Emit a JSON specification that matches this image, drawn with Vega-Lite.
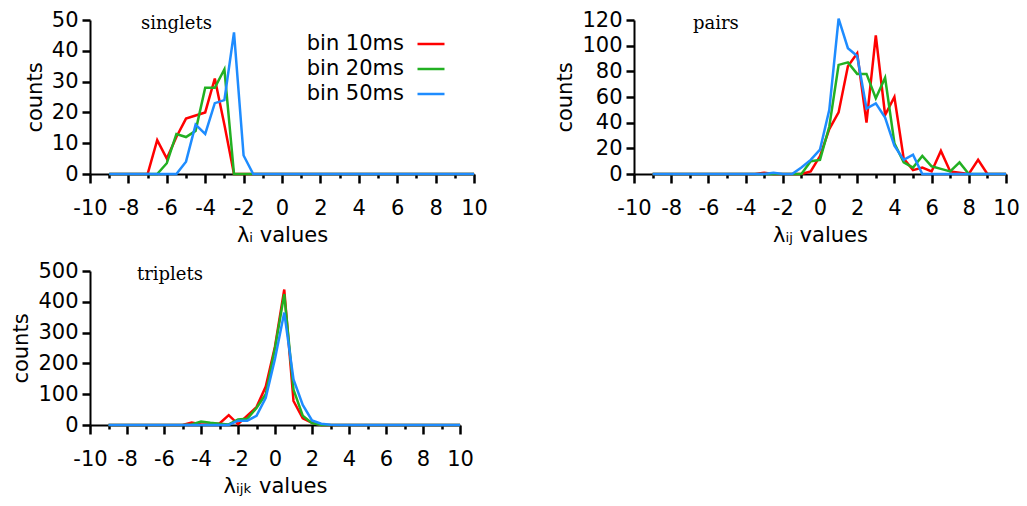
{
  "$schema": "https://vega.github.io/schema/vega-lite/v6.json",
  "background": "white",
  "padding": {"left": 10, "top": 9, "right": 5, "bottom": 5},
  "config": {
    "view": {"stroke": null},
    "font": "DejaVu Sans",
    "axis": {"domainColor": "black", "domainWidth": 2, "labelFont": "DejaVu Sans", "labelFontSize": 21, "labelColor": "black", "titleFont": "DejaVu Sans", "titleFontSize": 21, "titleFontWeight": "normal", "titleColor": "black", "grid": false, "labelOverlap": false, "labelFlush": false},
    "title": {"font": "DejaVu Serif", "fontSize": 18, "fontWeight": "normal", "color": "black", "anchor": "start", "frame": "group", "baseline": "top"},
    "legend": {"orient": "none", "legendX": 326, "legendY": 9, "title": null, "symbolType": "stroke", "symbolSize": 729, "symbolStrokeWidth": 2.5, "labelFontSize": 21, "labelFont": "DejaVu Sans", "labelColor": "black", "labelAlign": "right", "labelOffset": -42, "rowPadding": 0}
  },
  "datasets": {
    "singlets": [
      {"bin": "bin 10ms", "x": -9, "y": 0}, {"bin": "bin 10ms", "x": -7, "y": 0}, {"bin": "bin 10ms", "x": -6.5, "y": 11}, {"bin": "bin 10ms", "x": -6, "y": 5}, {"bin": "bin 10ms", "x": -5.5, "y": 12}, {"bin": "bin 10ms", "x": -5, "y": 18}, {"bin": "bin 10ms", "x": -4.5, "y": 19}, {"bin": "bin 10ms", "x": -4, "y": 20}, {"bin": "bin 10ms", "x": -3.5, "y": 31}, {"bin": "bin 10ms", "x": -3, "y": 16}, {"bin": "bin 10ms", "x": -2.5, "y": 0}, {"bin": "bin 10ms", "x": 10, "y": 0},
      {"bin": "bin 20ms", "x": -9, "y": 0}, {"bin": "bin 20ms", "x": -6.5, "y": 0}, {"bin": "bin 20ms", "x": -6, "y": 3.5}, {"bin": "bin 20ms", "x": -5.5, "y": 13}, {"bin": "bin 20ms", "x": -5, "y": 12}, {"bin": "bin 20ms", "x": -4.5, "y": 14}, {"bin": "bin 20ms", "x": -4, "y": 28}, {"bin": "bin 20ms", "x": -3.5, "y": 28}, {"bin": "bin 20ms", "x": -3, "y": 34}, {"bin": "bin 20ms", "x": -2.5, "y": 0}, {"bin": "bin 20ms", "x": 10, "y": 0},
      {"bin": "bin 50ms", "x": -9, "y": 0}, {"bin": "bin 50ms", "x": -5.5, "y": 0}, {"bin": "bin 50ms", "x": -5, "y": 4}, {"bin": "bin 50ms", "x": -4.5, "y": 16}, {"bin": "bin 50ms", "x": -4, "y": 13}, {"bin": "bin 50ms", "x": -3.5, "y": 23}, {"bin": "bin 50ms", "x": -3, "y": 24}, {"bin": "bin 50ms", "x": -2.5, "y": 46}, {"bin": "bin 50ms", "x": -2, "y": 6}, {"bin": "bin 50ms", "x": -1.5, "y": 0}, {"bin": "bin 50ms", "x": 10, "y": 0}
    ],
    "pairs": [
      {"bin": "bin 10ms", "x": -9, "y": 0}, {"bin": "bin 10ms", "x": -3.5, "y": 0}, {"bin": "bin 10ms", "x": -3, "y": 1}, {"bin": "bin 10ms", "x": -2.5, "y": 0}, {"bin": "bin 10ms", "x": -1, "y": 0}, {"bin": "bin 10ms", "x": -0.5, "y": 2}, {"bin": "bin 10ms", "x": 0, "y": 14}, {"bin": "bin 10ms", "x": 0.5, "y": 35}, {"bin": "bin 10ms", "x": 1, "y": 48}, {"bin": "bin 10ms", "x": 1.5, "y": 84}, {"bin": "bin 10ms", "x": 2, "y": 94}, {"bin": "bin 10ms", "x": 2.5, "y": 40}, {"bin": "bin 10ms", "x": 3, "y": 108}, {"bin": "bin 10ms", "x": 3.5, "y": 46}, {"bin": "bin 10ms", "x": 4, "y": 60}, {"bin": "bin 10ms", "x": 4.5, "y": 12}, {"bin": "bin 10ms", "x": 5, "y": 3}, {"bin": "bin 10ms", "x": 5.5, "y": 5}, {"bin": "bin 10ms", "x": 6, "y": 2}, {"bin": "bin 10ms", "x": 6.5, "y": 18}, {"bin": "bin 10ms", "x": 7, "y": 2}, {"bin": "bin 10ms", "x": 7.5, "y": 1}, {"bin": "bin 10ms", "x": 8, "y": 0}, {"bin": "bin 10ms", "x": 8.5, "y": 11}, {"bin": "bin 10ms", "x": 9, "y": 0}, {"bin": "bin 10ms", "x": 10, "y": 0},
      {"bin": "bin 20ms", "x": -9, "y": 0}, {"bin": "bin 20ms", "x": -1, "y": 0}, {"bin": "bin 20ms", "x": -0.5, "y": 10}, {"bin": "bin 20ms", "x": 0, "y": 11}, {"bin": "bin 20ms", "x": 0.5, "y": 37}, {"bin": "bin 20ms", "x": 1, "y": 85}, {"bin": "bin 20ms", "x": 1.5, "y": 87}, {"bin": "bin 20ms", "x": 2, "y": 78}, {"bin": "bin 20ms", "x": 2.5, "y": 78}, {"bin": "bin 20ms", "x": 3, "y": 59}, {"bin": "bin 20ms", "x": 3.5, "y": 75}, {"bin": "bin 20ms", "x": 4, "y": 24}, {"bin": "bin 20ms", "x": 4.5, "y": 9}, {"bin": "bin 20ms", "x": 5, "y": 5}, {"bin": "bin 20ms", "x": 5.5, "y": 14}, {"bin": "bin 20ms", "x": 6, "y": 6}, {"bin": "bin 20ms", "x": 6.5, "y": 4}, {"bin": "bin 20ms", "x": 7, "y": 2}, {"bin": "bin 20ms", "x": 7.5, "y": 9}, {"bin": "bin 20ms", "x": 8, "y": 0}, {"bin": "bin 20ms", "x": 10, "y": 0},
      {"bin": "bin 50ms", "x": -9, "y": 0}, {"bin": "bin 50ms", "x": -3, "y": 0}, {"bin": "bin 50ms", "x": -2.5, "y": 1}, {"bin": "bin 50ms", "x": -2, "y": 0}, {"bin": "bin 50ms", "x": -1.5, "y": 0}, {"bin": "bin 50ms", "x": -1, "y": 5}, {"bin": "bin 50ms", "x": -0.5, "y": 11}, {"bin": "bin 50ms", "x": 0, "y": 19}, {"bin": "bin 50ms", "x": 0.5, "y": 50}, {"bin": "bin 50ms", "x": 1, "y": 121}, {"bin": "bin 50ms", "x": 1.5, "y": 98}, {"bin": "bin 50ms", "x": 2, "y": 92}, {"bin": "bin 50ms", "x": 2.5, "y": 51}, {"bin": "bin 50ms", "x": 3, "y": 55}, {"bin": "bin 50ms", "x": 3.5, "y": 44}, {"bin": "bin 50ms", "x": 4, "y": 22}, {"bin": "bin 50ms", "x": 4.5, "y": 11}, {"bin": "bin 50ms", "x": 5, "y": 15}, {"bin": "bin 50ms", "x": 5.5, "y": 0}, {"bin": "bin 50ms", "x": 10, "y": 0}
    ],
    "triplets": [
      {"bin": "bin 10ms", "x": -9, "y": 0}, {"bin": "bin 10ms", "x": -5, "y": 0}, {"bin": "bin 10ms", "x": -4.5, "y": 8}, {"bin": "bin 10ms", "x": -4, "y": 2}, {"bin": "bin 10ms", "x": -3.5, "y": 2}, {"bin": "bin 10ms", "x": -3, "y": 5}, {"bin": "bin 10ms", "x": -2.5, "y": 32}, {"bin": "bin 10ms", "x": -2, "y": 3}, {"bin": "bin 10ms", "x": -1.5, "y": 30}, {"bin": "bin 10ms", "x": -1, "y": 58}, {"bin": "bin 10ms", "x": -0.5, "y": 125}, {"bin": "bin 10ms", "x": 0, "y": 255}, {"bin": "bin 10ms", "x": 0.5, "y": 440}, {"bin": "bin 10ms", "x": 1, "y": 78}, {"bin": "bin 10ms", "x": 1.5, "y": 22}, {"bin": "bin 10ms", "x": 2, "y": 7}, {"bin": "bin 10ms", "x": 2.5, "y": 0}, {"bin": "bin 10ms", "x": 10, "y": 0},
      {"bin": "bin 20ms", "x": -9, "y": 0}, {"bin": "bin 20ms", "x": -5, "y": 0}, {"bin": "bin 20ms", "x": -4.5, "y": 2}, {"bin": "bin 20ms", "x": -4, "y": 11}, {"bin": "bin 20ms", "x": -3.5, "y": 7}, {"bin": "bin 20ms", "x": -3, "y": 4}, {"bin": "bin 20ms", "x": -2.5, "y": 2}, {"bin": "bin 20ms", "x": -2, "y": 18}, {"bin": "bin 20ms", "x": -1.5, "y": 20}, {"bin": "bin 20ms", "x": -1, "y": 55}, {"bin": "bin 20ms", "x": -0.5, "y": 100}, {"bin": "bin 20ms", "x": 0, "y": 250}, {"bin": "bin 20ms", "x": 0.5, "y": 425}, {"bin": "bin 20ms", "x": 1, "y": 115}, {"bin": "bin 20ms", "x": 1.5, "y": 30}, {"bin": "bin 20ms", "x": 2, "y": 6}, {"bin": "bin 20ms", "x": 2.5, "y": 0}, {"bin": "bin 20ms", "x": 10, "y": 0},
      {"bin": "bin 50ms", "x": -9, "y": 0}, {"bin": "bin 50ms", "x": -2.5, "y": 0}, {"bin": "bin 50ms", "x": -2, "y": 14}, {"bin": "bin 50ms", "x": -1.5, "y": 14}, {"bin": "bin 50ms", "x": -1, "y": 30}, {"bin": "bin 50ms", "x": -0.5, "y": 88}, {"bin": "bin 50ms", "x": 0, "y": 215}, {"bin": "bin 50ms", "x": 0.5, "y": 365}, {"bin": "bin 50ms", "x": 1, "y": 148}, {"bin": "bin 50ms", "x": 1.5, "y": 65}, {"bin": "bin 50ms", "x": 2, "y": 15}, {"bin": "bin 50ms", "x": 2.5, "y": 4}, {"bin": "bin 50ms", "x": 3, "y": 1}, {"bin": "bin 50ms", "x": 3.5, "y": 0}, {"bin": "bin 50ms", "x": 10, "y": 0}
    ]
  },
  "columns": 1,
  "align": "none",
  "spacing": 15,
  "concat": [
    {
      "spacing": 66,
      "hconcat": [
        {
          "width": 384, "height": 154,
          "title": {"text": "singlets", "dx": 51, "offset": -24},
          "data": {"name": "singlets"},
          "layer": [
            {
              "mark": {"type": "line", "strokeWidth": 2.5},
              "encoding": {
                "x": {"field": "x", "type": "quantitative", "scale": {"domain": [-10, 10], "nice": false, "zero": false},
                  "axis": {"orient": "bottom", "values": [-10, -8, -6, -4, -2, 0, 2, 4, 6, 8, 10], "labelExpr": "toString(datum.value)", "ticks": true, "tickColor": "black", "tickWidth": 2.5, "tickSize": 9, "labelPadding": 14, "title": "λᵢ values", "titlePadding": 6}},
                "y": {"field": "y", "type": "quantitative", "scale": {"domain": [0, 50], "nice": false},
                  "axis": {"values": [0, 10, 20, 30, 40, 50], "ticks": true, "tickColor": "black", "tickWidth": 2.5, "tickSize": 8, "labelPadding": 4, "title": "counts", "titlePadding": 6}},
                "color": {"field": "bin", "type": "nominal", "scale": {"domain": ["bin 10ms", "bin 20ms", "bin 50ms"], "range": ["#ff0000", "#22b022", "#1e8cff"]}}
              }
            },
            {
              "mark": {"type": "line", "opacity": 0},
              "encoding": {
                "x": {"field": "x", "type": "quantitative", "scale": {"domain": [-10, 10], "nice": false, "zero": false},
                  "axis": {"orient": "bottom", "values": [-9, -7, -5, -3, -1, 1, 3, 5, 7, 9], "labels": false, "domain": false, "ticks": true, "tickColor": "black", "tickWidth": 2.5, "tickSize": 4, "title": null}},
                "y": {"field": "y", "type": "quantitative", "scale": {"domain": [0, 50], "nice": false},
                  "axis": {"values": [0, 10, 20, 30, 40, 50], "ticks": true, "tickColor": "black", "tickWidth": 2.5, "tickSize": 8, "labelPadding": 4, "title": "counts", "titlePadding": 6}}
              }
            }
          ],
          "resolve": {"axis": {"x": "independent"}}
        },
        {
          "width": 372, "height": 154,
          "title": {"text": "pairs", "dx": 59, "offset": -24},
          "data": {"name": "pairs"},
          "layer": [
            {
              "mark": {"type": "line", "strokeWidth": 2.5},
              "encoding": {
                "x": {"field": "x", "type": "quantitative", "scale": {"domain": [-10, 10], "nice": false, "zero": false},
                  "axis": {"orient": "bottom", "values": [-10, -8, -6, -4, -2, 0, 2, 4, 6, 8, 10], "labelExpr": "toString(datum.value)", "ticks": true, "tickColor": "black", "tickWidth": 2.5, "tickSize": 9, "labelPadding": 14, "title": "λᵢⱼ values", "titlePadding": 6}},
                "y": {"field": "y", "type": "quantitative", "scale": {"domain": [0, 120], "nice": false},
                  "axis": {"values": [0, 20, 40, 60, 80, 100, 120], "ticks": true, "tickColor": "black", "tickWidth": 2.5, "tickSize": 8, "labelPadding": 4, "title": "counts", "titlePadding": 6}},
                "color": {"field": "bin", "type": "nominal", "scale": {"domain": ["bin 10ms", "bin 20ms", "bin 50ms"], "range": ["#ff0000", "#22b022", "#1e8cff"]}}
              }
            },
            {
              "mark": {"type": "line", "opacity": 0},
              "encoding": {
                "x": {"field": "x", "type": "quantitative", "scale": {"domain": [-10, 10], "nice": false, "zero": false},
                  "axis": {"orient": "bottom", "values": [-9, -7, -5, -3, -1, 1, 3, 5, 7, 9], "labels": false, "domain": false, "ticks": true, "tickColor": "black", "tickWidth": 2.5, "tickSize": 4, "title": null}},
                "y": {"field": "y", "type": "quantitative", "scale": {"domain": [0, 120], "nice": false},
                  "axis": {"values": [0, 20, 40, 60, 80, 100, 120], "ticks": true, "tickColor": "black", "tickWidth": 2.5, "tickSize": 8, "labelPadding": 4, "title": "counts", "titlePadding": 6}}
              }
            }
          ],
          "resolve": {"axis": {"x": "independent"}}
        }
      ]
    },
    {
      "width": 370, "height": 154,
      "title": {"text": "triplets", "dx": 47, "offset": -24},
      "data": {"name": "triplets"},
      "layer": [
        {
          "mark": {"type": "line", "strokeWidth": 2.5},
          "encoding": {
            "x": {"field": "x", "type": "quantitative", "scale": {"domain": [-10, 10], "nice": false, "zero": false},
              "axis": {"orient": "bottom", "values": [-10, -8, -6, -4, -2, 0, 2, 4, 6, 8, 10], "labelExpr": "toString(datum.value)", "ticks": true, "tickColor": "black", "tickWidth": 2.5, "tickSize": 9, "labelPadding": 14, "title": "λᵢⱼₖ values", "titlePadding": 6}},
            "y": {"field": "y", "type": "quantitative", "scale": {"domain": [0, 500], "nice": false},
              "axis": {"values": [0, 100, 200, 300, 400, 500], "ticks": true, "tickColor": "black", "tickWidth": 2.5, "tickSize": 8, "labelPadding": 4, "title": "counts", "titlePadding": 6}},
            "color": {"field": "bin", "type": "nominal", "scale": {"domain": ["bin 10ms", "bin 20ms", "bin 50ms"], "range": ["#ff0000", "#22b022", "#1e8cff"]}}
          }
        },
        {
          "mark": {"type": "line", "opacity": 0},
          "encoding": {
            "x": {"field": "x", "type": "quantitative", "scale": {"domain": [-10, 10], "nice": false, "zero": false},
              "axis": {"orient": "bottom", "values": [-9, -7, -5, -3, -1, 1, 3, 5, 7, 9], "labels": false, "domain": false, "ticks": true, "tickColor": "black", "tickWidth": 2.5, "tickSize": 4, "title": null}},
            "y": {"field": "y", "type": "quantitative", "scale": {"domain": [0, 500], "nice": false},
              "axis": {"values": [0, 100, 200, 300, 400, 500], "ticks": true, "tickColor": "black", "tickWidth": 2.5, "tickSize": 8, "labelPadding": 4, "title": "counts", "titlePadding": 6}}
          }
        }
      ],
      "resolve": {"axis": {"x": "independent"}}
    }
  ]
}
